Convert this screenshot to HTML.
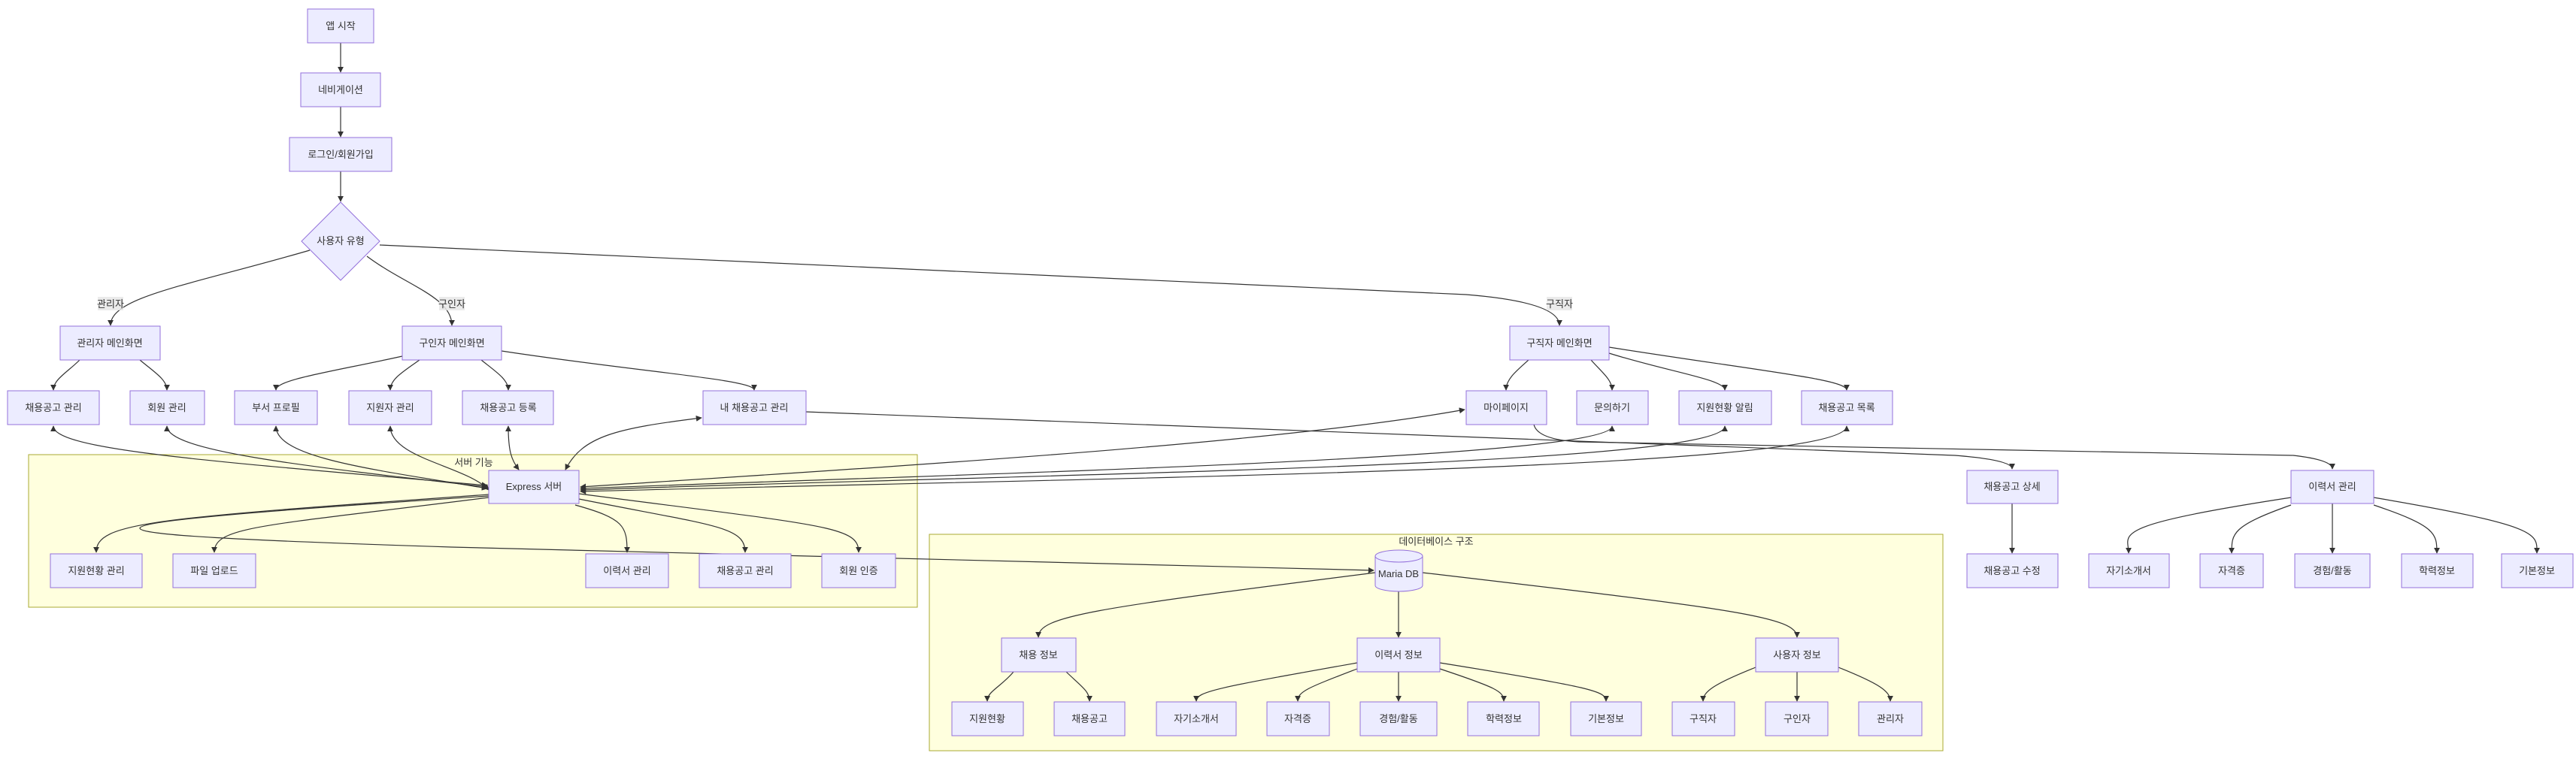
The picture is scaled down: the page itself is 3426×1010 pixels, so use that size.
<!DOCTYPE html>
<html><head><meta charset="utf-8">
<style>
html,body{margin:0;padding:0;background:#fff;}
svg{display:block;}
text{font-family:"Liberation Sans","Noto Sans CJK KR",sans-serif;font-size:13px;fill:#333;}
.n{fill:#ECECFF;stroke:#9370DB;stroke-width:1;}
.c{fill:#ffffde;stroke:#aaaa33;stroke-width:1;}
.e{fill:none;stroke:#333;stroke-width:1.2;}
.lb{fill:rgba(232,232,232,0.85);}
</style></head>
<body>
<svg width="3426" height="1010" viewBox="0 0 3426 1010" xmlns="http://www.w3.org/2000/svg">
<defs>
<marker id="a" viewBox="0 0 10 10" refX="9" refY="5" markerWidth="8" markerHeight="8" orient="auto-start-reverse" markerUnits="userSpaceOnUse"><path d="M0,0 L10,5 L0,10 z" fill="#333"/></marker>
</defs>

<rect class="c" x="38" y="605" width="1182" height="203"/>
<text x="630" y="620" text-anchor="middle">서버 기능</text>
<rect class="c" x="1236" y="711" width="1348" height="288"/>
<text x="1910" y="725" text-anchor="middle">데이터베이스 구조</text>

<g class="e" marker-end="url(#a)">
<path d="M453,57 L453,96"/>
<path d="M453,142 L453,182"/>
<path d="M453,228 L453,268"/>
<path d="M412,333 C250,380 147,395 147,433"/>
<path d="M488,341 C540,380 601,395 601,433"/>
<path d="M505,326 L1950,392 Q2074,402 2074,433"/>
<path d="M106,479 C90,495 71,505 71,519"/>
<path d="M186,479 C205,495 222,505 222,519"/>
<path d="M535,474 C440,495 367,505 367,519"/>
<path d="M558,479 C535,495 519,505 519,519"/>
<path d="M640,479 C660,495 676,505 676,519"/>
<path d="M667,467 C850,495 1003,505 1003,519"/>
<path d="M2033,479 C2015,495 2003,505 2003,519"/>
<path d="M2116,479 C2130,495 2144,505 2144,519"/>
<path d="M2140,470 C2220,495 2294,505 2294,519"/>
<path d="M2140,462 C2350,495 2456,505 2456,519"/>
<path marker-start="url(#a)" d="M71,567 C71,600 300,615 648,646"/>
<path marker-start="url(#a)" d="M222,567 C222,600 400,620 648,648"/>
<path marker-start="url(#a)" d="M367,567 C367,610 500,625 648,650"/>
<path marker-start="url(#a)" d="M519,567 C519,610 620,620 650,652"/>
<path marker-start="url(#a)" d="M676,567 C676,600 680,612 690,625"/>
<path marker-start="url(#a)" d="M752,625 C775,580 820,570 933,556"/>
<path marker-start="url(#a)" d="M772,648 C1200,620 1700,590 1948,545"/>
<path marker-start="url(#a)" d="M772,650 C1300,630 2144,610 2144,567"/>
<path marker-start="url(#a)" d="M772,652 C1400,630 2294,620 2294,567"/>
<path marker-start="url(#a)" d="M772,654 C1500,635 2456,625 2456,567"/>
<path d="M1072,548 L2600,606 Q2676,612 2676,624"/>
<path d="M2040,565 Q2045,585 2100,588 L3050,606 Q3102,612 3102,624"/>
<path d="M650,658 C200,690 128,695 128,735"/>
<path d="M650,662 C350,700 285,700 285,735"/>
<path d="M765,672 C830,690 834,700 834,735"/>
<path d="M770,664 C950,700 991,700 991,735"/>
<path d="M770,657 C1100,700 1142,700 1142,735"/>
<path d="M650,660 C40,700 40,710 600,728 L1827,759"/>
<path d="M1829,762 C1450,810 1381,820 1381,848"/>
<path d="M1860,787 L1860,848"/>
<path d="M1892,762 C2300,810 2390,820 2390,848"/>
<path d="M1348,894 C1330,915 1313,920 1313,933"/>
<path d="M1418,894 C1440,915 1449,920 1449,933"/>
<path d="M1805,882 C1620,915 1591,920 1591,933"/>
<path d="M1805,890 C1740,915 1726,920 1726,933"/>
<path d="M1860,894 L1860,933"/>
<path d="M1915,890 C1990,915 2000,920 2000,933"/>
<path d="M1915,882 C2120,915 2136,920 2136,933"/>
<path d="M2335,888 C2280,910 2265,920 2265,933"/>
<path d="M2390,894 L2390,933"/>
<path d="M2445,888 C2500,910 2514,920 2514,933"/>
<path d="M2676,670 L2676,736"/>
<path d="M3047,662 C2800,700 2831,710 2831,736"/>
<path d="M3047,672 C2968,700 2968,710 2968,736"/>
<path d="M3102,670 L3102,736"/>
<path d="M3157,672 C3240,700 3241,710 3241,736"/>
<path d="M3157,662 C3380,700 3374,710 3374,736"/>
</g>

<rect class="lb" x="130" y="395" width="34" height="18"/><text x="147" y="409" text-anchor="middle">관리자</text>
<rect class="lb" x="584" y="395" width="34" height="18"/><text x="601" y="409" text-anchor="middle">구인자</text>
<rect class="lb" x="2057" y="395" width="34" height="18"/><text x="2074" y="409" text-anchor="middle">구직자</text>

<g>
<rect class="n" x="409" y="12" width="88" height="45"/><text x="453" y="39" text-anchor="middle">앱 시작</text>
<rect class="n" x="400" y="97" width="106" height="45"/><text x="453" y="124" text-anchor="middle">네비게이션</text>
<rect class="n" x="385" y="183" width="136" height="45"/><text x="453" y="210" text-anchor="middle">로그인/회원가입</text>
<polygon class="n" points="453,269 505,321 453,373 401,321"/><text x="453" y="325" text-anchor="middle">사용자 유형</text>

<rect class="n" x="80" y="434" width="133" height="45"/><text x="146" y="461" text-anchor="middle">관리자 메인화면</text>
<rect class="n" x="535" y="434" width="132" height="45"/><text x="601" y="461" text-anchor="middle">구인자 메인화면</text>
<rect class="n" x="2008" y="434" width="132" height="45"/><text x="2074" y="461" text-anchor="middle">구직자 메인화면</text>

<rect class="n" x="10" y="520" width="122" height="45"/><text x="71" y="547" text-anchor="middle">채용공고 관리</text>
<rect class="n" x="173" y="520" width="99" height="45"/><text x="222" y="547" text-anchor="middle">회원 관리</text>
<rect class="n" x="312" y="520" width="110" height="45"/><text x="367" y="547" text-anchor="middle">부서 프로필</text>
<rect class="n" x="464" y="520" width="110" height="45"/><text x="519" y="547" text-anchor="middle">지원자 관리</text>
<rect class="n" x="615" y="520" width="121" height="45"/><text x="676" y="547" text-anchor="middle">채용공고 등록</text>
<rect class="n" x="935" y="520" width="137" height="45"/><text x="1003" y="547" text-anchor="middle">내 채용공고 관리</text>
<rect class="n" x="1950" y="520" width="107" height="45"/><text x="2003" y="547" text-anchor="middle">마이페이지</text>
<rect class="n" x="2097" y="520" width="95" height="45"/><text x="2144" y="547" text-anchor="middle">문의하기</text>
<rect class="n" x="2233" y="520" width="123" height="45"/><text x="2294" y="547" text-anchor="middle">지원현황 알림</text>
<rect class="n" x="2396" y="520" width="121" height="45"/><text x="2456" y="547" text-anchor="middle">채용공고 목록</text>

<rect class="n" x="650" y="626" width="120" height="44"/><text x="710" y="652" text-anchor="middle">Express 서버</text>
<rect class="n" x="2616" y="626" width="121" height="44"/><text x="2676" y="652" text-anchor="middle">채용공고 상세</text>
<rect class="n" x="3047" y="626" width="110" height="44"/><text x="3102" y="652" text-anchor="middle">이력서 관리</text>

<rect class="n" x="67" y="737" width="122" height="45"/><text x="128" y="764" text-anchor="middle">지원현황 관리</text>
<rect class="n" x="230" y="737" width="110" height="45"/><text x="285" y="764" text-anchor="middle">파일 업로드</text>
<rect class="n" x="779" y="737" width="110" height="45"/><text x="834" y="764" text-anchor="middle">이력서 관리</text>
<rect class="n" x="930" y="737" width="122" height="45"/><text x="991" y="764" text-anchor="middle">채용공고 관리</text>
<rect class="n" x="1093" y="737" width="98" height="45"/><text x="1142" y="764" text-anchor="middle">회원 인증</text>

<rect class="n" x="2616" y="737" width="121" height="45"/><text x="2676" y="764" text-anchor="middle">채용공고 수정</text>
<rect class="n" x="2778" y="737" width="107" height="45"/><text x="2831" y="764" text-anchor="middle">자기소개서</text>
<rect class="n" x="2926" y="737" width="84" height="45"/><text x="2968" y="764" text-anchor="middle">자격증</text>
<rect class="n" x="3052" y="737" width="100" height="45"/><text x="3102" y="764" text-anchor="middle">경험/활동</text>
<rect class="n" x="3194" y="737" width="95" height="45"/><text x="3241" y="764" text-anchor="middle">학력정보</text>
<rect class="n" x="3327" y="737" width="95" height="45"/><text x="3374" y="764" text-anchor="middle">기본정보</text>

<path class="n" d="M1829,740 a31.5,8 0 0 1 63,0 L1892,779 a31.5,8 0 0 1 -63,0 Z"/>
<path fill="none" stroke="#9370DB" d="M1829,740 a31.5,8 0 0 0 63,0"/>
<text x="1860" y="768" text-anchor="middle">Maria DB</text>

<rect class="n" x="1332" y="849" width="99" height="45"/><text x="1381" y="876" text-anchor="middle">채용 정보</text>
<rect class="n" x="1805" y="849" width="110" height="45"/><text x="1860" y="876" text-anchor="middle">이력서 정보</text>
<rect class="n" x="2335" y="849" width="110" height="45"/><text x="2390" y="876" text-anchor="middle">사용자 정보</text>

<rect class="n" x="1266" y="934" width="95" height="45"/><text x="1313" y="961" text-anchor="middle">지원현황</text>
<rect class="n" x="1402" y="934" width="94" height="45"/><text x="1449" y="961" text-anchor="middle">채용공고</text>
<rect class="n" x="1538" y="934" width="106" height="45"/><text x="1591" y="961" text-anchor="middle">자기소개서</text>
<rect class="n" x="1685" y="934" width="83" height="45"/><text x="1726" y="961" text-anchor="middle">자격증</text>
<rect class="n" x="1809" y="934" width="102" height="45"/><text x="1860" y="961" text-anchor="middle">경험/활동</text>
<rect class="n" x="1952" y="934" width="95" height="45"/><text x="2000" y="961" text-anchor="middle">학력정보</text>
<rect class="n" x="2089" y="934" width="94" height="45"/><text x="2136" y="961" text-anchor="middle">기본정보</text>
<rect class="n" x="2224" y="934" width="83" height="45"/><text x="2265" y="961" text-anchor="middle">구직자</text>
<rect class="n" x="2348" y="934" width="83" height="45"/><text x="2390" y="961" text-anchor="middle">구인자</text>
<rect class="n" x="2472" y="934" width="84" height="45"/><text x="2514" y="961" text-anchor="middle">관리자</text>
</g>
</svg>
</body></html>
